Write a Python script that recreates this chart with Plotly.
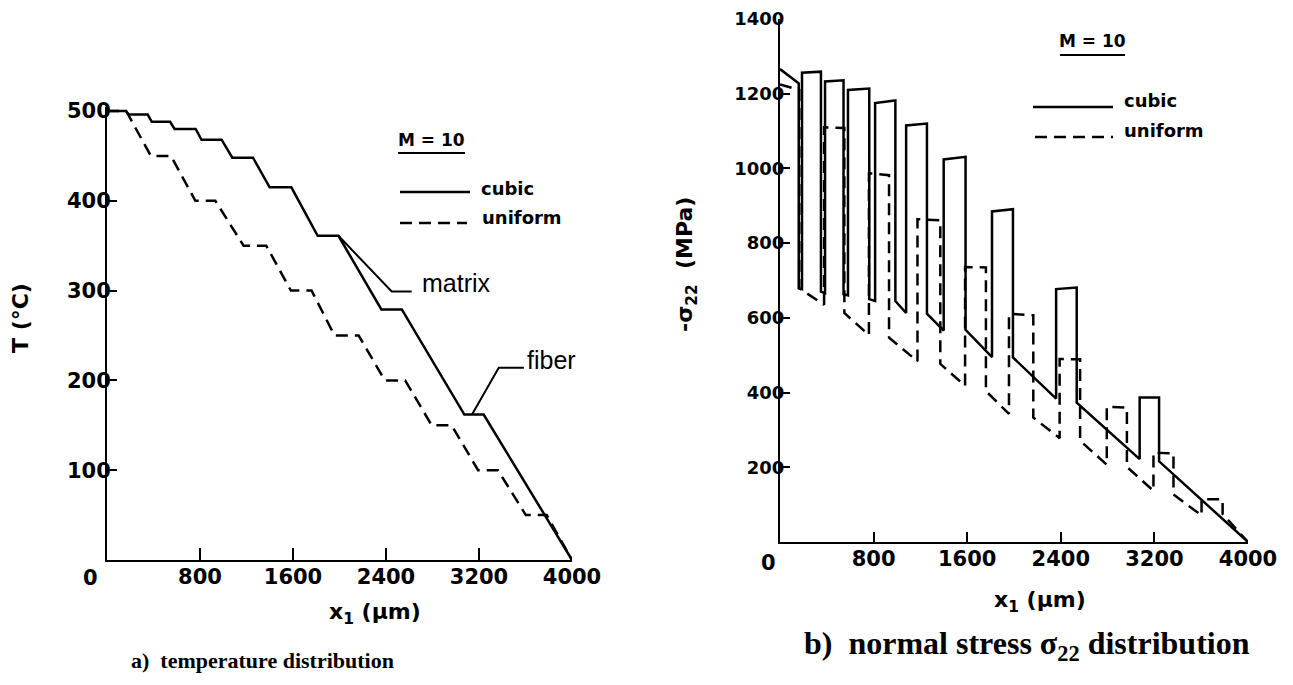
import plotly.graph_objects as go

W, H = 1293, 685
X_MAX = 4000

# ---------------- data ----------------
# fibre boundaries along x1 (um) for the two fibre distributions
cubic_start = [0, 188, 385, 581, 813, 1078, 1399, 1812, 2360, 3074]
cubic_end = [160, 350, 543, 763, 986, 1256, 1586, 1991, 2536, 3240]
uniform_start = [0, 377, 760, 1175, 1582, 1957, 2390, 2793, 3192, 3603]
uniform_end = [165, 550, 932, 1370, 1760, 2165, 2565, 2965, 3363, 3783]

# temperature in each fibre (deg C), value at x1 = 4000
T_cubic = [500, 496, 488, 480, 468, 448, 415, 361, 279, 162]
T_uniform = [500, 450, 400, 350, 300, 250, 200, 150, 100, 50]
T_end = 0

# -sigma22 (MPa): fibre (left/right edge) and following matrix (left/right edge)
s_cubic_fib_l = [1266, 1256, 1233, 1210, 1175, 1115, 1024, 885, 677, 387]
s_cubic_fib_r = [1228, 1259, 1236, 1214, 1182, 1120, 1031, 891, 681, 387]
s_cubic_mat_l = [679, 670, 663, 650, 645, 611, 568, 494, 373, 216]
s_cubic_mat_r = [677, 666, 660, 645, 613, 566, 495, 384, 222, 0]

s_unif_fib_l = [1225, 1110, 987, 864, 736, 611, 490, 362, 239, 115]
s_unif_fib_r = [1210, 1108, 982, 861, 735, 607, 489, 360, 237, 114]
s_unif_mat_l = [679, 613, 547, 477, 404, 333, 271, 201, 127, 75]
s_unif_mat_r = [635, 554, 484, 418, 343, 278, 207, 137, 71, 0]

x_ticks = [800, 1600, 2400, 3200, 4000]
T_ticks = [100, 200, 300, 400, 500]
s_ticks = [200, 400, 600, 800, 1000, 1200, 1400]


def temp_path(starts, ends, temps, t_end):
    xs, ys = [], []
    for a, b, t in zip(starts, ends, temps):
        xs += [a, b]
        ys += [t, t]
    xs.append(X_MAX)
    ys.append(t_end)
    return xs, ys


def stress_path(starts, ends, fl, fr, ml, mr):
    xs, ys = [], []
    n = len(starts)
    for i in range(n):
        nxt = starts[i + 1] if i + 1 < n else X_MAX
        xs += [starts[i], ends[i], ends[i], nxt]
        ys += [fl[i], fr[i], ml[i], mr[i]]
    return xs, ys


def fx(p):
    return p / W


def fy(p):
    return 1 - p / H


BLACK = "black"
LW = 2.5
DASH = "12px,7px"

fig = go.Figure()

# ---- temperature plot ----
x, y = temp_path(cubic_start, cubic_end, T_cubic, T_end)
fig.add_trace(go.Scatter(x=x, y=y, mode="lines", line=dict(color=BLACK, width=LW),
                         xaxis="x", yaxis="y", showlegend=False, hoverinfo="skip"))
x, y = temp_path(uniform_start, uniform_end, T_uniform, T_end)
fig.add_trace(go.Scatter(x=x, y=y, mode="lines", line=dict(color=BLACK, width=LW, dash=DASH),
                         xaxis="x", yaxis="y", showlegend=False, hoverinfo="skip"))

# ---- stress plot ----
x, y = stress_path(cubic_start, cubic_end, s_cubic_fib_l, s_cubic_fib_r, s_cubic_mat_l, s_cubic_mat_r)
fig.add_trace(go.Scatter(x=x, y=y, mode="lines", line=dict(color=BLACK, width=LW),
                         xaxis="x2", yaxis="y2", showlegend=False, hoverinfo="skip"))
x, y = stress_path(uniform_start, uniform_end, s_unif_fib_l, s_unif_fib_r, s_unif_mat_l, s_unif_mat_r)
fig.add_trace(go.Scatter(x=x, y=y, mode="lines", line=dict(color=BLACK, width=LW, dash=DASH),
                         xaxis="x2", yaxis="y2", showlegend=False, hoverinfo="skip"))


def tfont(size):
    return dict(family="DejaVu Sans", size=size, color=BLACK, weight="bold")


axis_common = dict(showgrid=False, zeroline=False, showline=True, linecolor=BLACK, linewidth=2,
                   ticks="inside", tickwidth=2, tickcolor=BLACK, automargin=False,
                   fixedrange=True)

fig.update_layout(
    width=W, height=H,
    margin=dict(l=0, r=0, t=0, b=0, pad=0),
    paper_bgcolor="white", plot_bgcolor="white",
    xaxis=dict(domain=[fx(107), fx(572)], range=[0, X_MAX], anchor="y",
               tickvals=x_ticks, ticklen=12, tickfont=tfont(21), ticklabelstandoff=-3,
               **axis_common),
    yaxis=dict(domain=[fy(560), fy(106.5)], range=[0, 505], anchor="x",
               tickvals=T_ticks, ticklen=10, tickfont=tfont(21), ticklabelstandoff=-10,
               **axis_common),
    xaxis2=dict(domain=[fx(780), fx(1248)], range=[0, X_MAX], anchor="y2",
                tickvals=x_ticks, ticklen=10, tickfont=tfont(21), ticklabelstandoff=-3,
                **axis_common),
    yaxis2=dict(domain=[fy(542), fy(19)], range=[0, 1400], anchor="x2",
                tickvals=s_ticks, ticklen=10, tickfont=tfont(18), ticklabelstandoff=-10,
                **axis_common),
)

shapes = []
ann = []


def text(px, py, s, size=18, family="DejaVu Sans", weight="bold", xanchor="center",
         angle=0):
    ann.append(dict(x=fx(px), y=fy(py), xref="paper", yref="paper", text=s, showarrow=False,
                    xanchor=xanchor, yanchor="middle", textangle=angle,
                    font=dict(family=family, size=size, color=BLACK, weight=weight)))


def pline(x0, y0, x1, y1, dash=None, width=LW):
    shapes.append(dict(type="line", xref="paper", yref="paper", x0=fx(x0), y0=fy(y0),
                       x1=fx(x1), y1=fy(y1), line=dict(color=BLACK, width=width, dash=dash)))


# left legend
text(431, 140, "M = 10", size=17)
pline(398, 153, 465, 153, width=2)
pline(400, 192, 470, 192)
text(479, 189, "cubic", xanchor="left")
pline(400, 223, 467, 223, dash=DASH)
text(480, 218, "uniform", xanchor="left")

# matrix / fiber leaders (data coordinates of left plot)
shapes.append(dict(type="path", xref="x", yref="y",
                   path="M 1991,361 L 2449,299 L 2621,299", line=dict(color=BLACK, width=2)))
shapes.append(dict(type="path", xref="x", yref="y",
                   path="M 3140,162 L 3370,214 L 3586,214", line=dict(color=BLACK, width=2)))
text(420, 283, "matrix", size=25, family="Liberation Sans", weight="normal", xanchor="left")
text(525, 360, "fiber", size=25, family="Liberation Sans", weight="normal", xanchor="left")

# left axis titles and origin
text(20, 318, "T (°C)", size=22, angle=-90)
text(375, 613, "x<sub>1</sub> (μm)", size=22)
text(90, 578, "0", size=21)
text(262, 660, "a)  temperature distribution", size=22, family="Liberation Serif")

# right legend
text(1092, 41, "M = 10", size=17)
pline(1060, 55, 1125, 55, width=2)
pline(1033, 107, 1113, 107)
text(1122, 100, "cubic", xanchor="left")
pline(1035, 137, 1113, 137, dash=DASH)
text(1122, 130, "uniform", xanchor="left")

text(686, 265, "-σ<sub>22</sub>  (MPa)", size=22, angle=-90)
text(1040, 601, "x<sub>1</sub> (μm)", size=22)
text(768, 563, "0", size=21)
text(1027, 645, "b)  normal stress σ<sub>22</sub> distribution", size=32, family="Liberation Serif")

fig.update_layout(shapes=shapes, annotations=ann)
fig.write_html("out.html", config={"displayModeBar": False, "responsive": False},
               post_script="document.body.style.margin='0px';")
